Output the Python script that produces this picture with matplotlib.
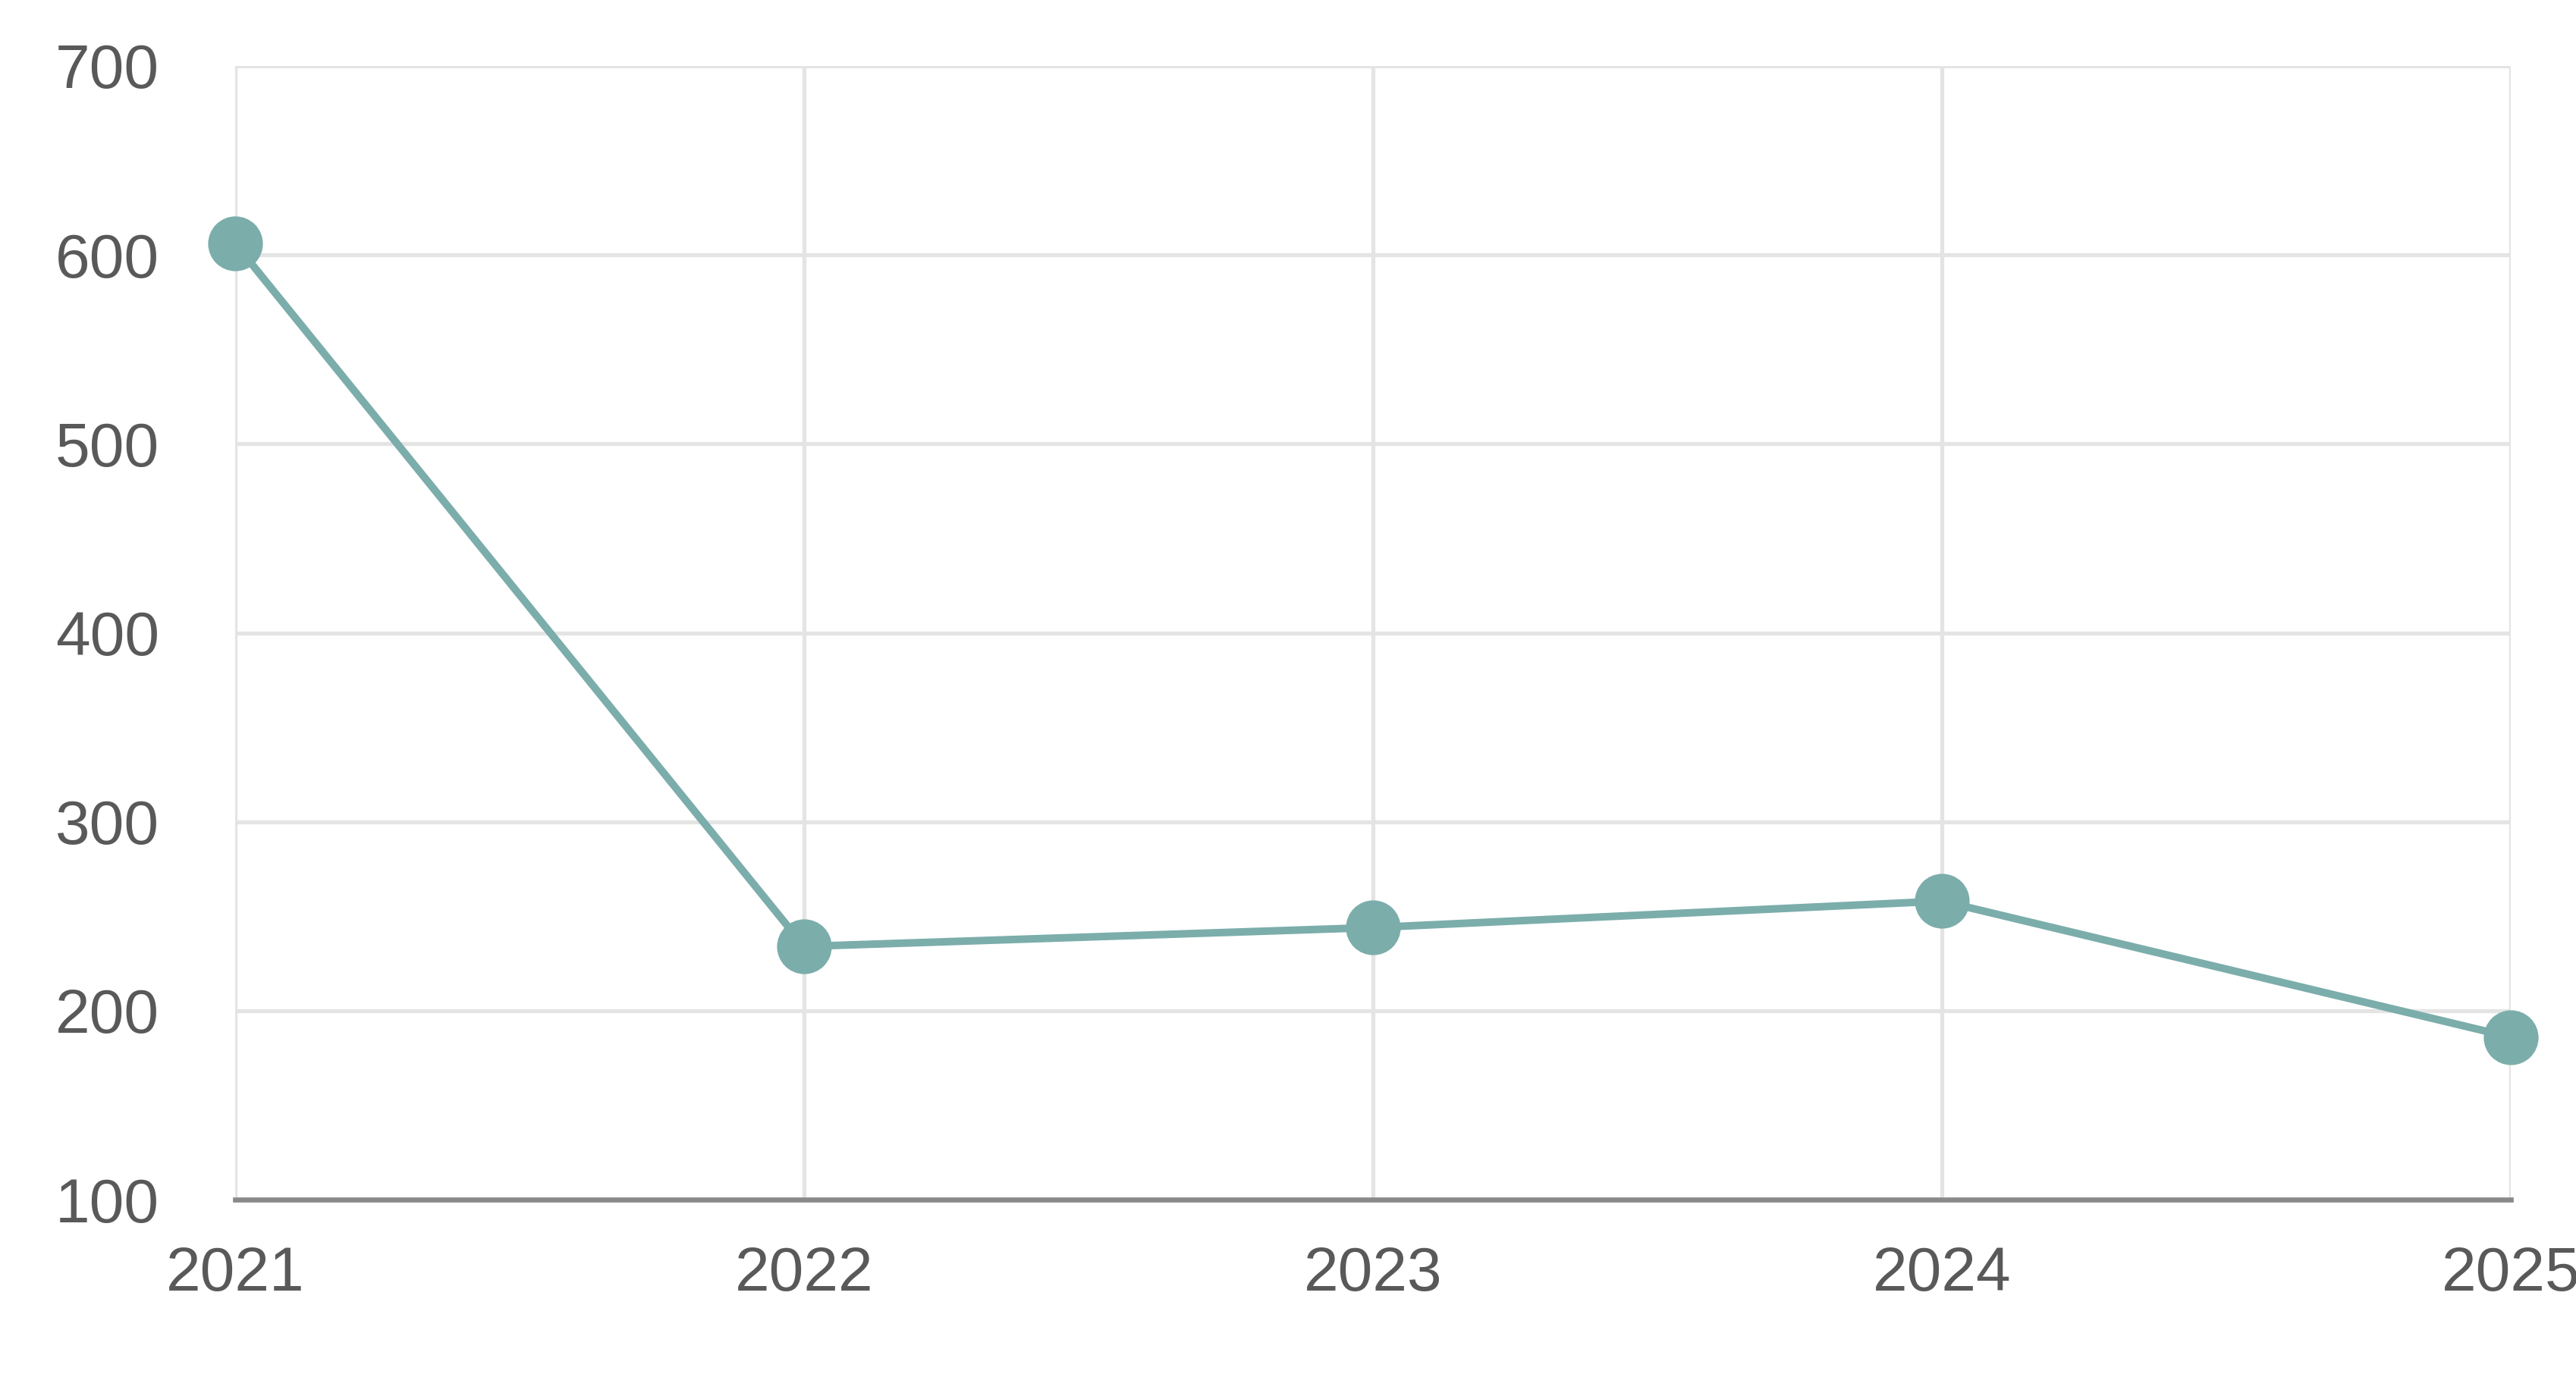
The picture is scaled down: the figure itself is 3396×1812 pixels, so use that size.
import matplotlib
matplotlib.use("Agg")
import matplotlib.pyplot as plt

years = [2021, 2022, 2023, 2024, 2025]
values = [606, 234, 244, 258, 186]
y_ticks = [100, 200, 300, 400, 500, 600, 700]

plt.rcParams['font.family'] = ['Liberation Sans', 'DejaVu Sans']

fig = plt.figure(figsize=(16.98, 9.06), dpi=200)
ax = fig.add_axes([0.0913, 0.1269, 0.8834, 0.8251])

line_color = '#7BADAB'
ax.plot(years, values, color=line_color, lw=3.6, marker='o', markersize=26,
        markeredgewidth=0, clip_on=False, zorder=3)

ax.set_xlim(2021, 2025)
ax.set_ylim(100, 700)
ax.set_xticks(years)
ax.set_xticklabels([str(y) for y in years])
ax.set_yticks(y_ticks)

ax.grid(True, color='#e4e4e4', lw=1.9, zorder=0)
ax.set_axisbelow(True)
for s in ['left', 'right', 'top']:
    ax.spines[s].set_visible(False)
ax.spines['bottom'].set_color('#898989')
ax.spines['bottom'].set_linewidth(2.4)

ax.tick_params(axis='both', length=0, labelsize=29.5, colors='#595959')
ax.tick_params(axis='y', pad=36)
ax.tick_params(axis='x', pad=22)

fig.savefig('out.png', dpi=200, facecolor='white')
